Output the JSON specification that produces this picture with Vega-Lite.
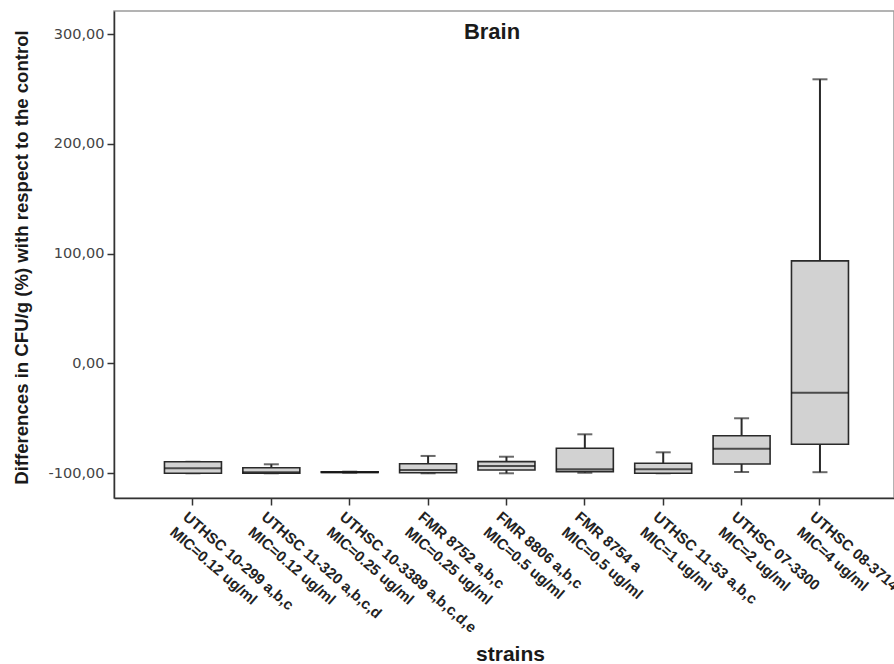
{
  "$schema": "https://vega.github.io/schema/vega-lite/v6.json",
  "autosize": "none",
  "padding": {"left": 114, "top": 11, "right": 0, "bottom": 166},
  "width": 780,
  "height": 487,
  "background": "white",
  "title": {
    "text": "Brain",
    "font": "Liberation Sans",
    "fontSize": 22,
    "fontWeight": "bold",
    "color": "#1a1a1a",
    "anchor": "middle",
    "baseline": "alphabetic",
    "offset": -49.5,
    "dx": -12
  },
  "config": {
    "view": {"stroke": "#9a9a9a", "strokeWidth": 1.5},
    "axis": {"grid": false}
  },
  "data": {
    "values": [
      {"strain": "UTHSC 10-299 a,b,c\nMIC=0.12 ug/ml", "min": -100, "q1": -100, "median": -95.5, "q3": -89.5, "max": -89.5},
      {"strain": "UTHSC 11-320 a,b,c,d\nMIC=0.12 ug/ml", "min": -100, "q1": -100, "median": -99, "q3": -94.9, "max": -91.8},
      {"strain": "UTHSC 10-3389 a,b,c,d,e\nMIC=0.25 ug/ml", "min": -99.5, "q1": -99.3, "median": -99, "q3": -98.7, "max": -98.5},
      {"strain": "FMR 8752 a,b,c\nMIC=0.25 ug/ml", "min": -100, "q1": -99.5, "median": -97, "q3": -91.3, "max": -84.2},
      {"strain": "FMR 8806 a,b,c\nMIC=0.5 ug/ml", "min": -100, "q1": -97, "median": -93.4, "q3": -89.4, "max": -84.9},
      {"strain": "FMR 8754 a\nMIC=0.5 ug/ml", "min": -99.5, "q1": -98.5, "median": -96.4, "q3": -77.2, "max": -64.5},
      {"strain": "UTHSC 11-53 a,b,c\nMIC=1 ug/ml", "min": -100, "q1": -100, "median": -96.4, "q3": -90.9, "max": -80.9},
      {"strain": "UTHSC 07-3300\nMIC=2 ug/ml", "min": -98.8, "q1": -91.5, "median": -77.6, "q3": -65.8, "max": -49.9},
      {"strain": "UTHSC 08-3714\nMIC=4 ug/ml", "min": -99, "q1": -73.6, "median": -26.6, "q3": 93.4, "max": 258.8}
    ]
  },
  "encoding": {
    "x": {
      "field": "strain",
      "type": "nominal",
      "sort": null,
      "scale": {"paddingInner": 0, "paddingOuter": 0.476, "align": 0.533},
      "axis": {
        "title": "strains",
        "titleFont": "Liberation Sans",
        "titleFontSize": 21,
        "titleFontWeight": "bold",
        "titleColor": "#1a1a1a",
        "titleX": 396,
        "titleY": 162,
        "titleAlign": "center",
        "titleBaseline": "alphabetic",
        "labelExpr": "split(datum.label, '\\n')",
        "labelFont": "Liberation Sans",
        "labelFontSize": 15,
        "labelFontWeight": "bold",
        "labelColor": "#222222",
        "labelAngle": 41,
        "labelAlign": "left",
        "labelBaseline": "top",
        "labelLineHeight": 20,
        "labelPadding": 4,
        "labelOffset": -3,
        "labelOverlap": false,
        "labelBound": false,
        "labelLimit": 300,
        "domainColor": "#333333",
        "domainWidth": 1.5,
        "tickColor": "#333333",
        "tickWidth": 1.5,
        "tickSize": 7
      }
    },
    "y": {
      "type": "quantitative",
      "scale": {"domain": [-122.5, 321], "nice": false, "zero": false},
      "axis": {
        "title": "Differences in CFU/g (%) with respect to the control",
        "titleFont": "Liberation Sans",
        "titleFontSize": 18.6,
        "titleFontWeight": "bold",
        "titleColor": "#1a1a1a",
        "titleX": -93,
        "titleY": 246,
        "titleAngle": -90,
        "titleAlign": "center",
        "titleBaseline": "middle",
        "values": [-100, 0, 100, 200, 300],
        "labelExpr": "replace(replace(format(datum.value, '.2f'), '.', ','), '\u2212', '-')",
        "labelFont": "DejaVu Sans",
        "labelFontSize": 14.5,
        "labelColor": "#444444",
        "labelPadding": 3,
        "domainColor": "#333333",
        "domainWidth": 1.5,
        "tickColor": "#333333",
        "tickWidth": 1.5,
        "tickSize": 7
      }
    }
  },
  "layer": [
    {
      "mark": {"type": "rule", "color": "#2a2a2a", "strokeWidth": 2},
      "encoding": {"y": {"field": "min"}, "y2": {"field": "max"}}
    },
    {
      "mark": {"type": "tick", "color": "#2a2a2a", "size": 15, "thickness": 2},
      "encoding": {"y": {"field": "min"}}
    },
    {
      "mark": {"type": "tick", "color": "#2a2a2a", "size": 15, "thickness": 2},
      "encoding": {"y": {"field": "max"}}
    },
    {
      "mark": {"type": "bar", "size": 57, "fill": "#d2d2d2", "stroke": "#2a2a2a", "strokeWidth": 1.6},
      "encoding": {"y": {"field": "q1"}, "y2": {"field": "q3"}}
    },
    {
      "mark": {"type": "tick", "color": "#111111", "size": 57, "thickness": 2},
      "encoding": {"y": {"field": "median"}}
    }
  ]
}
